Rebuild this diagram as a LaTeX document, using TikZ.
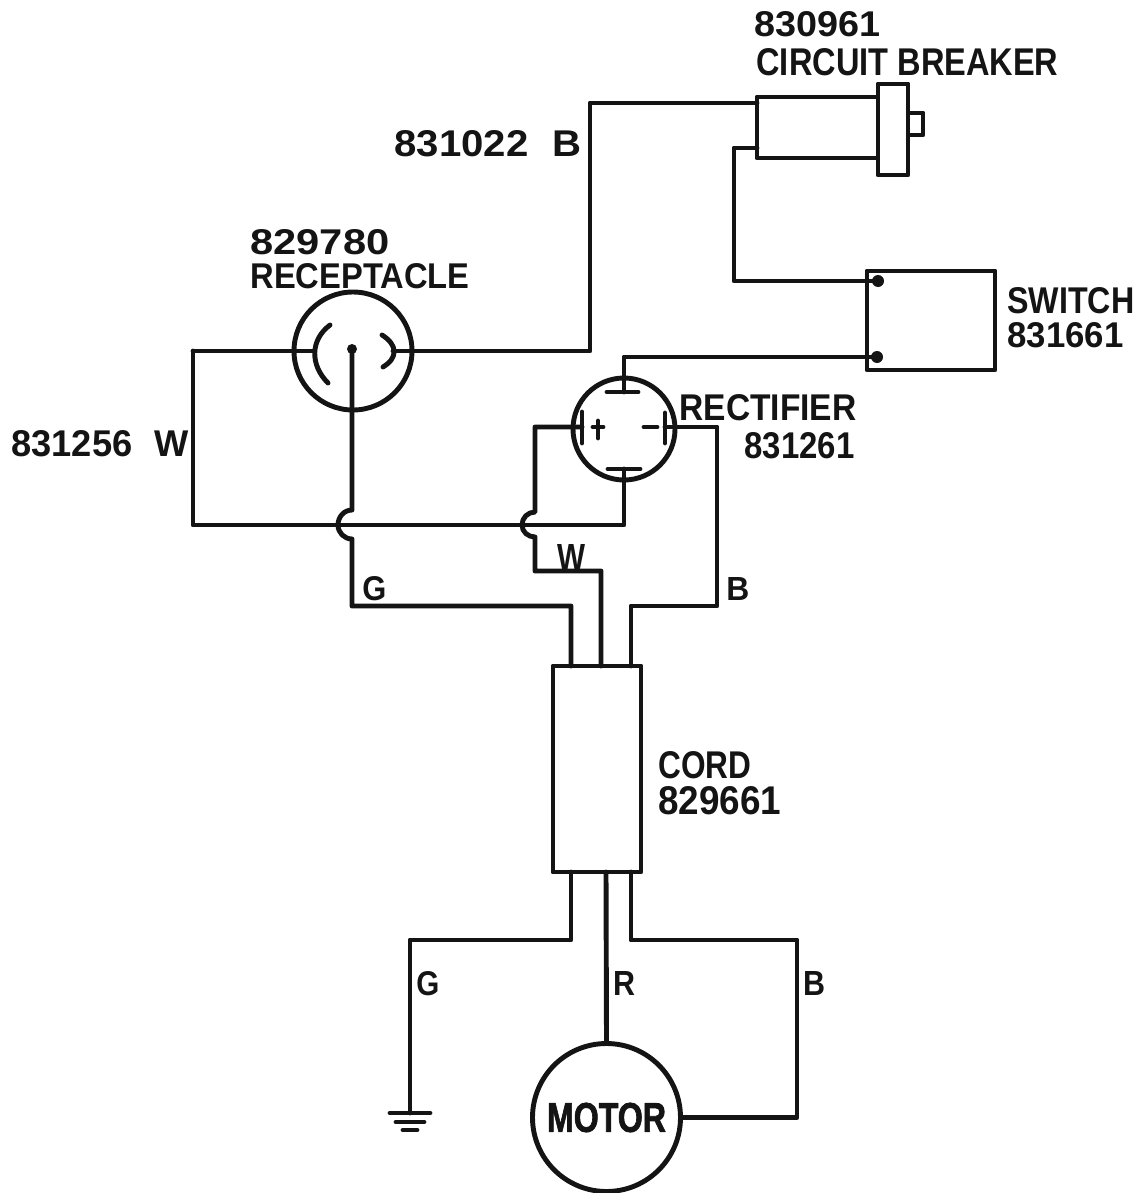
\documentclass[tikz,border=0pt]{standalone}
\usepackage{graphicx}
\usepackage{fontspec}
\newfontfamily\lblfont{Liberation Sans}
\newfontfamily\motorfont{Liberation Sans}[BoldFeatures={FakeBold=2}]
\newlength\pxu
\setlength\pxu{0.02cm}

\begin{document}
\begin{tikzpicture}[x=0.02cm, y=-0.02cm, line width=2.8pt, line cap=round, line join=round,
    black!92,
    boxstyle/.style={rectangle, draw, inner sep=0pt},
    circlestyle/.style={circle, draw, inner sep=0pt},
    lblstyle/.style={anchor=base west, inner sep=0pt, font=\lblfont\bfseries}]
            \useasboundingbox (0,0) rectangle (1143,1193);

            % parts
            \node[boxstyle, minimum width=123\pxu, minimum height=61\pxu] (breaker) at (818.5,127.5) {};
            \node[boxstyle, fill=white, minimum width=30\pxu, minimum height=91\pxu] (flange) at (893,129.5) {};
            \node[boxstyle, minimum width=15\pxu, minimum height=22\pxu] (button) at (915.5,124) {};
            \node[boxstyle, minimum width=128\pxu, minimum height=99\pxu] (switch) at (931,320.5) {};
            \node[boxstyle, minimum width=88\pxu, minimum height=206\pxu] (cord) at (597,769) {};
            \node[circlestyle, minimum size=118\pxu] (recept) at (353,351) {};
            \node[circlestyle, minimum size=102\pxu] (rectif) at (624,429) {};
            \node[circlestyle, minimum size=148\pxu] (motor) at (606.5,1117.5)
                {\resizebox{119\pxu}{29\pxu}{\motorfont\bfseries MOTOR}};

            % points on the wires
            \coordinate (cbin) at (757,103);
            \coordinate (cbout) at (757,148);
            \coordinate (bturn) at (590,103);
            \coordinate (cbturn) at (734,148);
            \coordinate (swtop) at (878,281);
            \coordinate (swbot) at (877,357);
            \coordinate (rtop) at (624,357);
            \coordinate (rtplate) at (624,392);
            \coordinate (rbplate) at (624,469);
            \coordinate (rleft) at (582,427);
            \coordinate (rright) at (665,427);
            \coordinate (lturn) at (535,427);
            \coordinate (rturn) at (717,427);
            \coordinate (rlcontact) at (313,351);
            \coordinate (rrcontact) at (393,351);
            \coordinate (rpin) at (352,349);
            \coordinate (wturn) at (193,351);
            \coordinate (wbot) at (193,525);
            \coordinate (rbot) at (624,525);
            \coordinate (hopa) at (352,510);
            \coordinate (hopb) at (338,525);
            \coordinate (hopc) at (352,539);
            \coordinate (hopd) at (535,512);
            \coordinate (hope) at (522,525);
            \coordinate (hopf) at (535,537);
            \coordinate (gturn) at (352,606);
            \coordinate (cordg) at (571,666);
            \coordinate (cordw) at (601,666);
            \coordinate (cordb) at (631,666);
            \coordinate (wup) at (535,571);
            \coordinate (outg) at (571,872);
            \coordinate (outr) at (606,872);
            \coordinate (outb) at (631,872);
            \coordinate (gnd) at (410,1113);
            \coordinate (bdown) at (797,1117.5);

            % top wires
            \draw (rrcontact) -- (recept.east) -| (bturn) -- (cbin);
            \draw (cbout) -- (cbturn) |- (swtop);
            \draw (swbot) -- (rtop) -- (rtplate);
            \draw (wturn) -- (rlcontact);
            \draw (wturn) -- (wbot) -- (rbot) -- (rbplate);

            % wires which hop over
            \draw (rpin) -- (hopa) to[out=180, in=90] (hopb) to[out=-90, in=180] (hopc) -- (gturn) -| (cordg);
            \draw (rleft) -- (lturn) -- (hopd) to[out=180, in=90] (hope) to[out=-90, in=180] (hopf) -- (wup) -| (cordw);
            \draw (rright) -- (rturn) |- (cordb |- gturn) -- (cordb);

            % lower wires
            \draw (outg) |- (gnd |- 0,940) -- (gnd);
            \draw (outr) -- (motor.north);
            \draw (outb) |- (bdown |- 0,940) -- (bdown) -- (motor.east);

            % receptacle inside
            \draw (330,325) .. controls (310,340) and (310,365) .. (328,383);
            \draw (382,335) .. controls (398,345) and (398,358) .. (383,367);
            \fill (rpin) circle (5);

            % rectifier inside
            \draw (607,392) -- (638,392);
            \draw (608,469) -- (640,469);
            \draw (582,412) -- (582,443);
            \draw (665,413) -- (665,443);
            \draw (593,427) -- (603,427) (598,421) -- (598,438);
            \draw (644,427) -- (657,427);

            % switch dots
            \fill (swtop) circle (6);
            \fill (swbot) circle (6);

            % ground
            \foreach \y/\w in {1113/20, 1122/14, 1130/7}
            \draw (410-\w,\y) -- (410+\w,\y);

            % labels: name, x, baseline, width, height, text
            \foreach \n/\x/\y/\w/\h/\t in {
                a/752/37/126/25/830961, b/754/76/302/27/CIRCUIT BREAKER,
                c/392/156/187/26/{831022\hspace{0.6em}B},
                d/248/254/139/25/829780, e/248/288/219/25/RECEPTACLE,
                f/9/456/177/26/{831256\hspace{0.6em}W},
                g/1005/313/127/26/SWITCH, h/1005/347/116/25/831661,
                i/677/420/177/26/RECTIFIER, j/742/458/110/26/831261,
                k/555/570/28/26/W, l/360/600/24/24/G, m/724/600/23/23/B,
                o/656/778/93/27/CORD, p/656/814/123/28/829661,
                q/414/995/23/24/G, r/611/995/22/24/R, s/801/995/22/24/B}
            \node[lblstyle] (lbl\n) at (\x,\y) {\resizebox{\w\pxu}{\h\pxu}{\t}};
        \end{tikzpicture}
\end{document}
